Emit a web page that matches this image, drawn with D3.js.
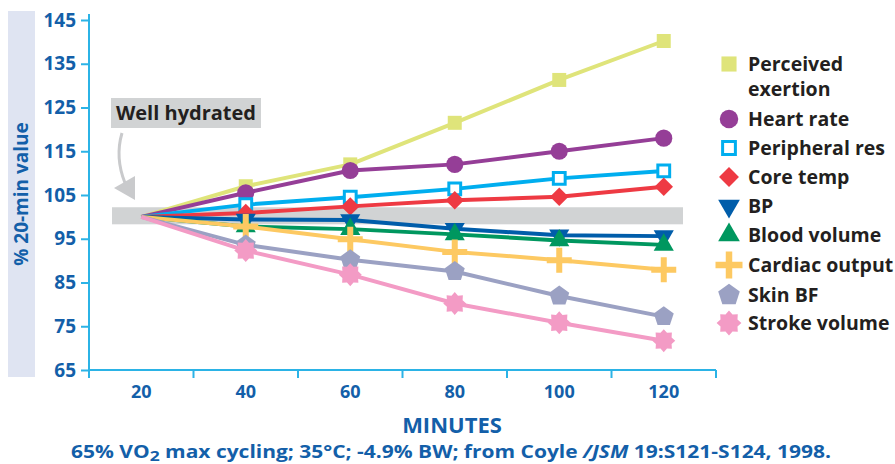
<!DOCTYPE html>
<html>
<head>
<meta charset="utf-8">
<script src="https://cdn.jsdelivr.net/npm/d3@7"></script>
<style>
  html, body { margin: 0; padding: 0; background: #fff; }
  svg { display: block; font-family: "Open Sans", "DejaVu Sans", sans-serif; }
</style>
</head>
<body>
<svg id="chart" width="895" height="464"></svg>
<script>
// ---------------- data ----------------
const categories = [20, 40, 60, 80, 100, 120];
const yTickValues = [65, 75, 85, 95, 105, 115, 125, 135, 145];

const perceivedExertion = [100, 107.0, 112.0, 121.5, 131.3, 140.2];
const heartRate         = [100, 105.5, 110.6, 112.0, 115.0, 118.0];
const peripheralRes     = [100, 102.8, 104.5, 106.4, 108.8, 110.5];
const coreTemp          = [100, 100.9, 102.4, 103.8, 104.6, 106.9];
const bloodPressure     = [100, 99.4, 99.3, 97.3, 95.8, 95.6];
const bloodVolume       = [100, 97.8, 97.2, 96.0, 94.6, 93.6];
const cardiacOutput     = [100, 97.8, 94.9, 92.0, 90.1, 87.9];
const skinBF            = [100, 93.6, 90.2, 87.5, 81.9, 77.2];
const strokeVolume      = [100, 92.3, 86.8, 80.2, 75.8, 71.7];

const seriesNames  = ["Perceived exertion", "Heart rate", "Peripheral res", "Core temp", "BP",
                      "Blood volume", "Cardiac output", "Skin BF", "Stroke volume"];
const seriesValues = [perceivedExertion, heartRate, peripheralRes, coreTemp, bloodPressure,
                      bloodVolume, cardiacOutput, skinBF, strokeVolume];
const seriesColors = ["#dfe47a", "#953e97", "#00aeef", "#ee3a43", "#005daa",
                      "#00975f", "#fdc962", "#9ba1c3", "#f39bc5"];
const seriesShapes = ["square", "circle", "openSquare", "diamond", "triangleDown",
                      "triangleUp", "plus", "pentagon", "star"];

const wellHydratedBand = [98.3, 102.2];

// ---------------- layout ----------------
const svg = d3.select("#chart");
const blue = "#135fa9";
const axisColor = "#2bb3e6";

const x = d3.scaleBand().domain(categories).range([89, 716]).padding(0);
const y = d3.scaleLinear().domain([65, 145]).range([370, 20]);
const cx = c => x(c) + x.bandwidth() / 2;

// y-title background band
svg.append("rect").attr("x", 8).attr("y", 11).attr("width", 27).attr("height", 366)
  .attr("fill", "#dfe4f2");
svg.append("text")
  .attr("transform", "translate(28,194) rotate(-90)")
  .attr("text-anchor", "middle")
  .attr("font-size", 19).attr("font-weight", 700).attr("fill", blue)
  .text("% 20-min value");

// well hydrated band
svg.append("rect")
  .attr("x", 112).attr("width", 683 - 112)
  .attr("y", y(wellHydratedBand[1]))
  .attr("height", y(wellHydratedBand[0]) - y(wellHydratedBand[1]))
  .attr("fill", "#d1d3d4");

// label + arrow
svg.append("rect").attr("x", 111).attr("y", 98).attr("width", 150).attr("height", 30)
  .attr("fill", "#d1d3d4");
svg.append("text").attr("x", 186).attr("y", 120).attr("text-anchor", "middle")
  .attr("font-size", 20).attr("font-weight", 700).attr("fill", "#231f20")
  .text("Well hydrated");
svg.append("path")
  .attr("d", "M122,133 C117,150 119,168 125,183")
  .attr("fill", "none").attr("stroke", "#c9cacc").attr("stroke-width", 3);
svg.append("path")
  .attr("d", "M114,188 L135,176 L135,200 Z")
  .attr("fill", "#c9cacc");

// y axis
const yAxis = svg.append("g").attr("transform", "translate(89,0)")
  .call(d3.axisLeft(y).tickValues(yTickValues).tickSize(8).tickPadding(5).tickFormat(d3.format("d")));
yAxis.select(".domain").attr("stroke", axisColor).attr("stroke-width", 2)
  .attr("d", "M0,14V370");
yAxis.selectAll(".tick line").attr("stroke", axisColor).attr("stroke-width", 2);
yAxis.selectAll(".tick text").attr("fill", blue).attr("font-size", 19).attr("font-weight", 700)
  .attr("font-family", "Open Sans");

// x axis (labels centred in bands, ticks at band edges)
const xAxis = svg.append("g").attr("transform", "translate(0,370)")
  .call(d3.axisBottom(x).tickSize(0).tickPadding(15));
xAxis.select(".domain").attr("stroke", axisColor).attr("stroke-width", 2)
  .attr("d", `M89,0H${x.range()[1]}`);
xAxis.selectAll(".tick text").attr("fill", blue).attr("font-size", 18).attr("font-weight", 700)
  .attr("font-family", "Open Sans");
const edges = categories.map(c => x(c)).concat([x(categories[categories.length - 1]) + x.bandwidth()]);
xAxis.selectAll("line.edge").data(edges).enter().append("line")
  .attr("class", "edge")
  .attr("x1", d => d).attr("x2", d => d).attr("y1", 0).attr("y2", 8)
  .attr("stroke", axisColor).attr("stroke-width", 2);

svg.append("text").attr("x", 452).attr("y", 433).attr("text-anchor", "middle")
  .attr("font-size", 22).attr("font-weight", 700).attr("fill", blue).text("MINUTES");

const foot = svg.append("text").attr("x", 451).attr("y", 458).attr("text-anchor", "middle")
  .attr("font-size", 18).attr("font-weight", 700).attr("fill", blue)
  .attr("textLength", 760).attr("lengthAdjust", "spacingAndGlyphs");
foot.append("tspan").text("65% VO");
foot.append("tspan").attr("font-size", 15).attr("dy", 3).text("2");
foot.append("tspan").attr("dy", -3).text(" max cycling; 35°C; -4.9% BW; from Coyle ");
foot.append("tspan").attr("font-style", "italic").text("/JSM");
foot.append("tspan").text(" 19:S121-S124, 1998.");

// ---------------- symbols ----------------
function polygon(n, r, rot) {
  const pts = [];
  for (let i = 0; i < n; i++) {
    const a = rot + i * 2 * Math.PI / n;
    pts.push([r * Math.cos(a), r * Math.sin(a)]);
  }
  return "M" + pts.map(p => p.join(",")).join("L") + "Z";
}
function starPath(n, ro, ri) {
  const pts = [];
  for (let i = 0; i < 2 * n; i++) {
    const r = i % 2 === 0 ? ro : ri;
    const a = -Math.PI / 2 + i * Math.PI / n;
    pts.push([r * Math.cos(a), r * Math.sin(a)]);
  }
  return "M" + pts.map(p => p.join(",")).join("L") + "Z";
}
function plusPath(len, w) {
  const h = len / 2, t = w / 2;
  return `M${-t},${-h}H${t}V${-t}H${h}V${t}H${t}V${h}H${-t}V${t}H${-h}V${-t}H${-t}Z`;
}

function drawSymbol(g, shape, color, s) {
  switch (shape) {
    case "square":
      g.append("path").attr("d", d3.symbol(d3.symbolSquare, 196 * s * s)()).attr("fill", color); break;
    case "circle":
      g.append("path").attr("d", d3.symbol(d3.symbolCircle, 230 * s * s)()).attr("fill", color); break;
    case "openSquare":
      g.append("path").attr("d", d3.symbol(d3.symbolSquare, 140 * s * s)())
        .attr("fill", "#fff").attr("stroke", color).attr("stroke-width", 3); break;
    case "diamond":
      g.append("path").attr("d", d3.symbol(d3.symbolSquare, 170 * s * s)())
        .attr("transform", "rotate(45)").attr("fill", color); break;
    case "triangleDown":
      g.append("path").attr("d", d3.symbol(d3.symbolTriangle, 175 * s * s)())
        .attr("transform", "rotate(180)").attr("fill", color); break;
    case "triangleUp":
      g.append("path").attr("d", d3.symbol(d3.symbolTriangle, 175 * s * s)()).attr("fill", color); break;
    case "plus":
      g.append("path").attr("d", plusPath(25 * s, 6 * s)).attr("fill", color); break;
    case "pentagon":
      g.append("path").attr("d", polygon(5, 10.5 * s, -Math.PI / 2)).attr("fill", color); break;
    case "star":
      g.append("path").attr("d", starPath(8, 11.5 * s, 8.5 * s)).attr("fill", color); break;
  }
}

// ---------------- series ----------------
const line = d3.line().x((d, i) => cx(categories[i])).y(d => y(d));
seriesValues.forEach((vals, k) => {
  const g = svg.append("g");
  g.append("path").attr("d", line(vals)).attr("fill", "none")
    .attr("stroke", seriesColors[k]).attr("stroke-width", 4).attr("stroke-linejoin", "round");
  vals.forEach((v, i) => {
    if (i === 0) return;
    const m = g.append("g").attr("transform", `translate(${cx(categories[i])},${y(v)})`);
    drawSymbol(m, seriesShapes[k], seriesColors[k], 1);
  });
});

// ---------------- legend ----------------
const legendY = [64, 119, 148, 177, 206, 235, 265, 295, 323];
const legend = svg.append("g");
seriesNames.forEach((name, k) => {
  const m = legend.append("g").attr("transform", `translate(729,${legendY[k]})`);
  drawSymbol(m, seriesShapes[k], seriesColors[k], 1.08);
  const t = legend.append("text").attr("x", 748).attr("y", legendY[k]).attr("dy", "0.36em")
    .attr("font-size", 19.5).attr("font-weight", 700).attr("fill", "#231f20");
  if (k === 0) {
    t.append("tspan").attr("x", 748).text("Perceived");
    t.append("tspan").attr("x", 748).attr("dy", 25).text("exertion");
  } else {
    t.text(name);
  }
});
</script>
</body>
</html>
